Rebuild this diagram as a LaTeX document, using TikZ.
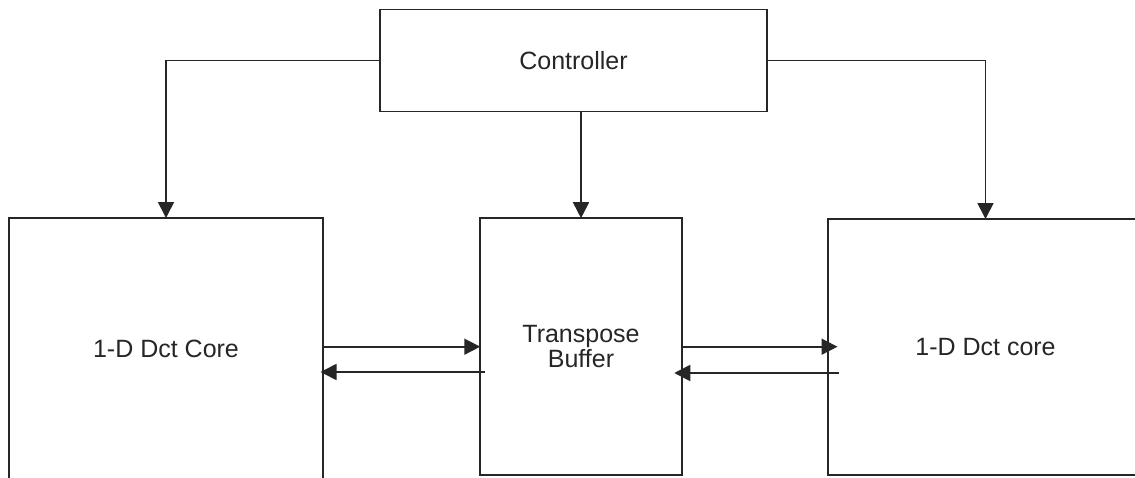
\documentclass[tikz,border=0pt]{standalone}
\usepackage{fontspec}
\setmainfont{Liberation Sans}
\usetikzlibrary{arrows.meta}
\begin{document}
\begin{tikzpicture}[x=1pt,y=-1pt,
  blk/.style={draw=black!85,line width=1.7pt,inner sep=0pt,outer sep=0pt,
    font=\fontsize{25}{24.5}\selectfont,align=center,text=black!85},
  arr/.style={draw=black!85,line width=1.7pt,-{Triangle[length=16pt,width=16pt]}}]
\fill[white] (0,0) rectangle (1135,477);
\useasboundingbox (0,0) rectangle (1135,477);
\clip (0,0) rectangle (1135,477);

% blocks
\node[blk,minimum width=387pt,minimum height=102pt] (ctrl) at (573.5,60.5) {Controller};
\node[blk,minimum width=314pt,minimum height=262pt] (left) at (166,349) {1-D Dct Core};
\node[blk,minimum width=201.5pt,minimum height=257pt] (mid) at (581,346.7) {Transpose\\Buffer};
\node[blk,minimum width=315pt,minimum height=256pt] (right) at (985.5,347) {1-D Dct core};

% control lines
\draw[arr] (ctrl.west) -| (left.north);
\draw[arr] (mid.north |- ctrl.south) -- (mid.north);
\draw[arr] (ctrl.east) -| (right.north);

% data paths between the cores and the buffer
\draw[arr] (mid.west -| left.east) -- (mid.west);
\coordinate (lbstart) at ([xshift=5pt,yshift=-25.3pt]mid.west);
\coordinate (lbend) at ([xshift=-2.5pt]lbstart -| left.east);
\draw[arr] (lbstart) -- (lbend);

\coordinate (rtend) at ([xshift=9.5pt]mid.east -| right.west);
\draw[arr] (mid.east) -- (rtend);
\coordinate (rbstart) at ([xshift=11pt,yshift=-26pt]right.west);
\coordinate (rbend) at ([xshift=-7.5pt]rbstart -| mid.east);
\draw[arr] (rbstart) -- (rbend);
\end{tikzpicture}
\end{document}
